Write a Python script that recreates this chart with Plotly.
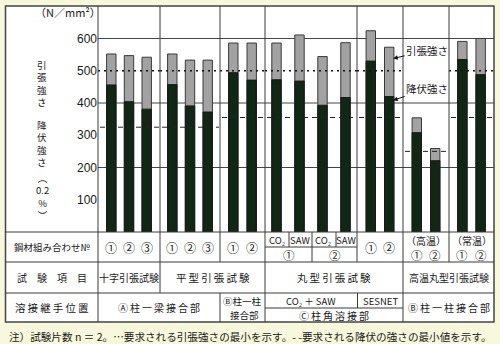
import plotly.graph_objects as go

W, H = 500, 344

# ---------------- data ----------------
steel_labels = ["①", "②", "③", "①", "②", "③", "①", "②",
                "CO₂", "SAW", "CO₂", "SAW", "①", "②", "①", "②", "①", "②"]
tensile_strength = [552, 547, 542, 552, 533, 533, 586, 586,
                    586, 611, 544, 587, 624, 573, 354, 259, 591, 600]
yield_strength = [456, 404, 381, 457, 391, 372, 494, 471,
                  472, 468, 393, 417, 530, 420, 308, 221, 535, 488]
bar_group = [0, 0, 0, 1, 1, 1, 2, 2, 3, 3, 3, 3, 4, 4, 5, 5, 6, 6]
tensile_min = [500, 500, 500, 500, 500, None, 500]   # dotted lines
yield_min = [325, 325, 355, 355, 355, 250, 355]      # dashed lines
y_ticks = [100, 200, 300, 400, 500, 600]
grid_vals = [200, 400, 600]

# ---------------- layout helpers (pixel based) ----------------
group_edges = [98, 160, 220, 265, 357, 403, 449, 494]
group_spacing = [17.7, 17.7, 18.4, 23.0, 18.4, 18.4, 18.3]
CH_TOP, CH_BOT = 6, 232          # chart area top/bottom (px)
ROWS = [232, 262, 293, 322]      # table row lines (px)
LEFT, RIGHT = 5.5, 494
Y_RANGE = 700.8

def PY(py):   # pixel y -> paper y
    return 1 - py / H

bar_x = []
for i, g in enumerate(bar_group):
    members = [j for j, gg in enumerate(bar_group) if gg == g]
    k = members.index(i)
    n = len(members)
    c = (group_edges[g] + group_edges[g + 1]) / 2
    bar_x.append(c + (k - (n - 1) / 2) * group_spacing[g])

JP = "Noto Sans CJK JP"
NUM = "Liberation Sans Narrow, Arial Narrow, Liberation Sans, sans-serif"
LINE = "#3a3a3a"

fig = go.Figure()

fig.add_trace(go.Bar(x=bar_x, y=tensile_strength, width=9.4, opacity=1,
                     marker=dict(color="#a2a2a2", line=dict(color=LINE, width=1)),
                     name="引張強さ", showlegend=False, hoverinfo="y"))
fig.add_trace(go.Bar(x=bar_x, y=yield_strength, width=9.4, opacity=1,
                     marker=dict(color="#0f2713", line=dict(color="#1a1a1a", width=1)),
                     name="降伏強さ", showlegend=False, hoverinfo="y"))

# requirement lines
for g, v in enumerate(tensile_min):
    if v is None:
        continue
    fig.add_trace(go.Scatter(x=[group_edges[g], group_edges[g + 1]], y=[v, v], mode="lines",
                             line=dict(color="#111", width=1.6, dash="2px,4px"),
                             showlegend=False, hoverinfo="skip"))
for g, v in enumerate(yield_min):
    fig.add_trace(go.Scatter(x=[group_edges[g] + 2, group_edges[g + 1] - 1], y=[v, v], mode="lines",
                             line=dict(color="#222", width=1, dash="5px,4px"),
                             showlegend=False, hoverinfo="skip"))

shapes = []
shapes.append(dict(type="rect", xref="paper", yref="paper", x0=LEFT / W, x1=RIGHT / W,
                   y0=PY(ROWS[-1]), y1=PY(CH_TOP), fillcolor="white",
                   line=dict(color="#444", width=1.5), layer="below"))
for v in grid_vals:
    shapes.append(dict(type="line", xref="paper", yref="y", x0=98 / W, x1=RIGHT / W,
                       y0=v, y1=v, line=dict(color="#444", width=1), layer="below"))

def vline(x, y0, y1, w=1):
    shapes.append(dict(type="line", xref="paper", yref="paper", x0=x / W, x1=x / W,
                       y0=PY(y0), y1=PY(y1), line=dict(color=LINE, width=w)))

def hline(y, x0, x1, w=1):
    shapes.append(dict(type="line", xref="paper", yref="paper", x0=x0 / W, x1=x1 / W,
                       y0=PY(y), y1=PY(y), line=dict(color=LINE, width=w)))

for r in ROWS[:-1]:
    hline(r, LEFT, RIGHT)
hline(247, 265, 357)
hline(308, 265, 403)
vline(98, CH_TOP, ROWS[3])
vline(160, CH_TOP, ROWS[2])
vline(220, CH_TOP, ROWS[1])
vline(220, ROWS[2], ROWS[3])
vline(265, CH_TOP, ROWS[3])
vline(289, ROWS[0], 247)
vline(312, ROWS[0], ROWS[1])
vline(336, ROWS[0], 247)
vline(357, CH_TOP, ROWS[1])
vline(357.5, ROWS[2], 308)
vline(403, CH_TOP, ROWS[3])
vline(449, CH_TOP, ROWS[1])

ann = []

def txt(t, x, y, size=10, xanchor="center", family=JP, color="#1a1a1a"):
    ann.append(dict(text=t, x=x, y=PY(y), xref="x", yref="paper", showarrow=False,
                    xanchor=xanchor, yanchor="middle", font=dict(family=family, size=size, color=color)))

# y axis unit and vertical title (stacked glyphs)
txt("（N／mm²）", 68, 12, 11)
txt("<br>".join("引張強さ"), 42, 83.5, 9.5)
txt("<br>".join("降伏強さ"), 42, 143.5, 9.5)
txt("<br>".join(["︵", "0.2", "%", "︶"]), 42, 196, 9.5)

# row 1
txt("鋼材組み合わせ№", 52, 247, 9.5)
for i, lab in enumerate(steel_labels):
    g = bar_group[i]
    if g == 3:
        txt(lab, bar_x[i], 240, 9.5)
    elif g in (5, 6):
        txt(lab, bar_x[i], 254.5, 11.5)
    else:
        txt(lab, bar_x[i], 247, 12)
txt("①", (265 + 312) / 2, 254.5, 11.5)
txt("②", (312 + 357) / 2, 254.5, 11.5)
txt("（高温）", 426, 240, 10)
txt("（常温）", 471.5, 240, 10)

# row 2
sp = "\u2009"
txt("\u3000".join("試験項目"), 52, 277.5, 10)
txt("十字引張試験", 129, 277.5, 10)
txt(sp.join("平型引張試験"), 212.5, 277.5, 10.5)
txt(sp.join("丸型引張試験"), 334, 277.5, 10.5)
txt("高温丸型引張試験", 449, 277.5, 10)

# row 3
txt(sp.join("溶接継手位置"), 52, 307.5, 10.5)
txt(sp.join("Ⓐ柱一梁接合部"), 159, 307.5, 10)
txt("Ⓑ柱一柱", 242.5, 300.5, 9.5)
txt("接合部", 244, 314.5, 9.5)
txt("CO₂ ＋ SAW", 311, 300.5, 9.5)
txt("SESNET", 380.5, 300.5, 9.5)
txt(sp.join("Ⓒ柱角溶接部"), 334, 315, 10)
txt(sp.join("Ⓑ柱一柱接合部"), 449, 307.5, 10)

# footnote
txt("注）試験片数 n ＝ 2。…要求される引張強さの最小を示す。- -要求される降伏の強さの最小値を示す。",
    7, 336, 10.6, xanchor="left")

# arrow callouts
ann.append(dict(text="引張強さ", x=bar_x[13] + 4, y=538, xref="x", yref="y",
                ax=34, ay=-8, showarrow=True, arrowhead=2, arrowsize=0.9, arrowwidth=1,
                arrowcolor="#111", font=dict(family=JP, size=10.5, color="#1a1a1a")))
ann.append(dict(text="降伏強さ", x=bar_x[13] + 4, y=408, xref="x", yref="y",
                ax=34, ay=-12, showarrow=True, arrowhead=2, arrowsize=0.9, arrowwidth=1,
                arrowcolor="#111", font=dict(family=JP, size=10.5, color="#1a1a1a")))

fig.update_layout(
    width=W, height=H, margin=dict(l=0, r=0, t=0, b=0),
    paper_bgcolor="#f7f8dc", plot_bgcolor="rgba(0,0,0,0)",
    barmode="overlay", showlegend=False,
    xaxis=dict(range=[0, W], domain=[0, 1], visible=False, fixedrange=True),
    yaxis=dict(range=[0, Y_RANGE], domain=[PY(CH_BOT), PY(CH_TOP)], anchor="free",
               position=98 / W, tickvals=y_ticks, ticks="", showgrid=False,
               zeroline=False, showline=False, ticklabelstandoff=1,
               tickfont=dict(family=NUM, size=12, color="#1a1a1a")),
    shapes=shapes, annotations=ann,
)

fig.write_html("out.html")
